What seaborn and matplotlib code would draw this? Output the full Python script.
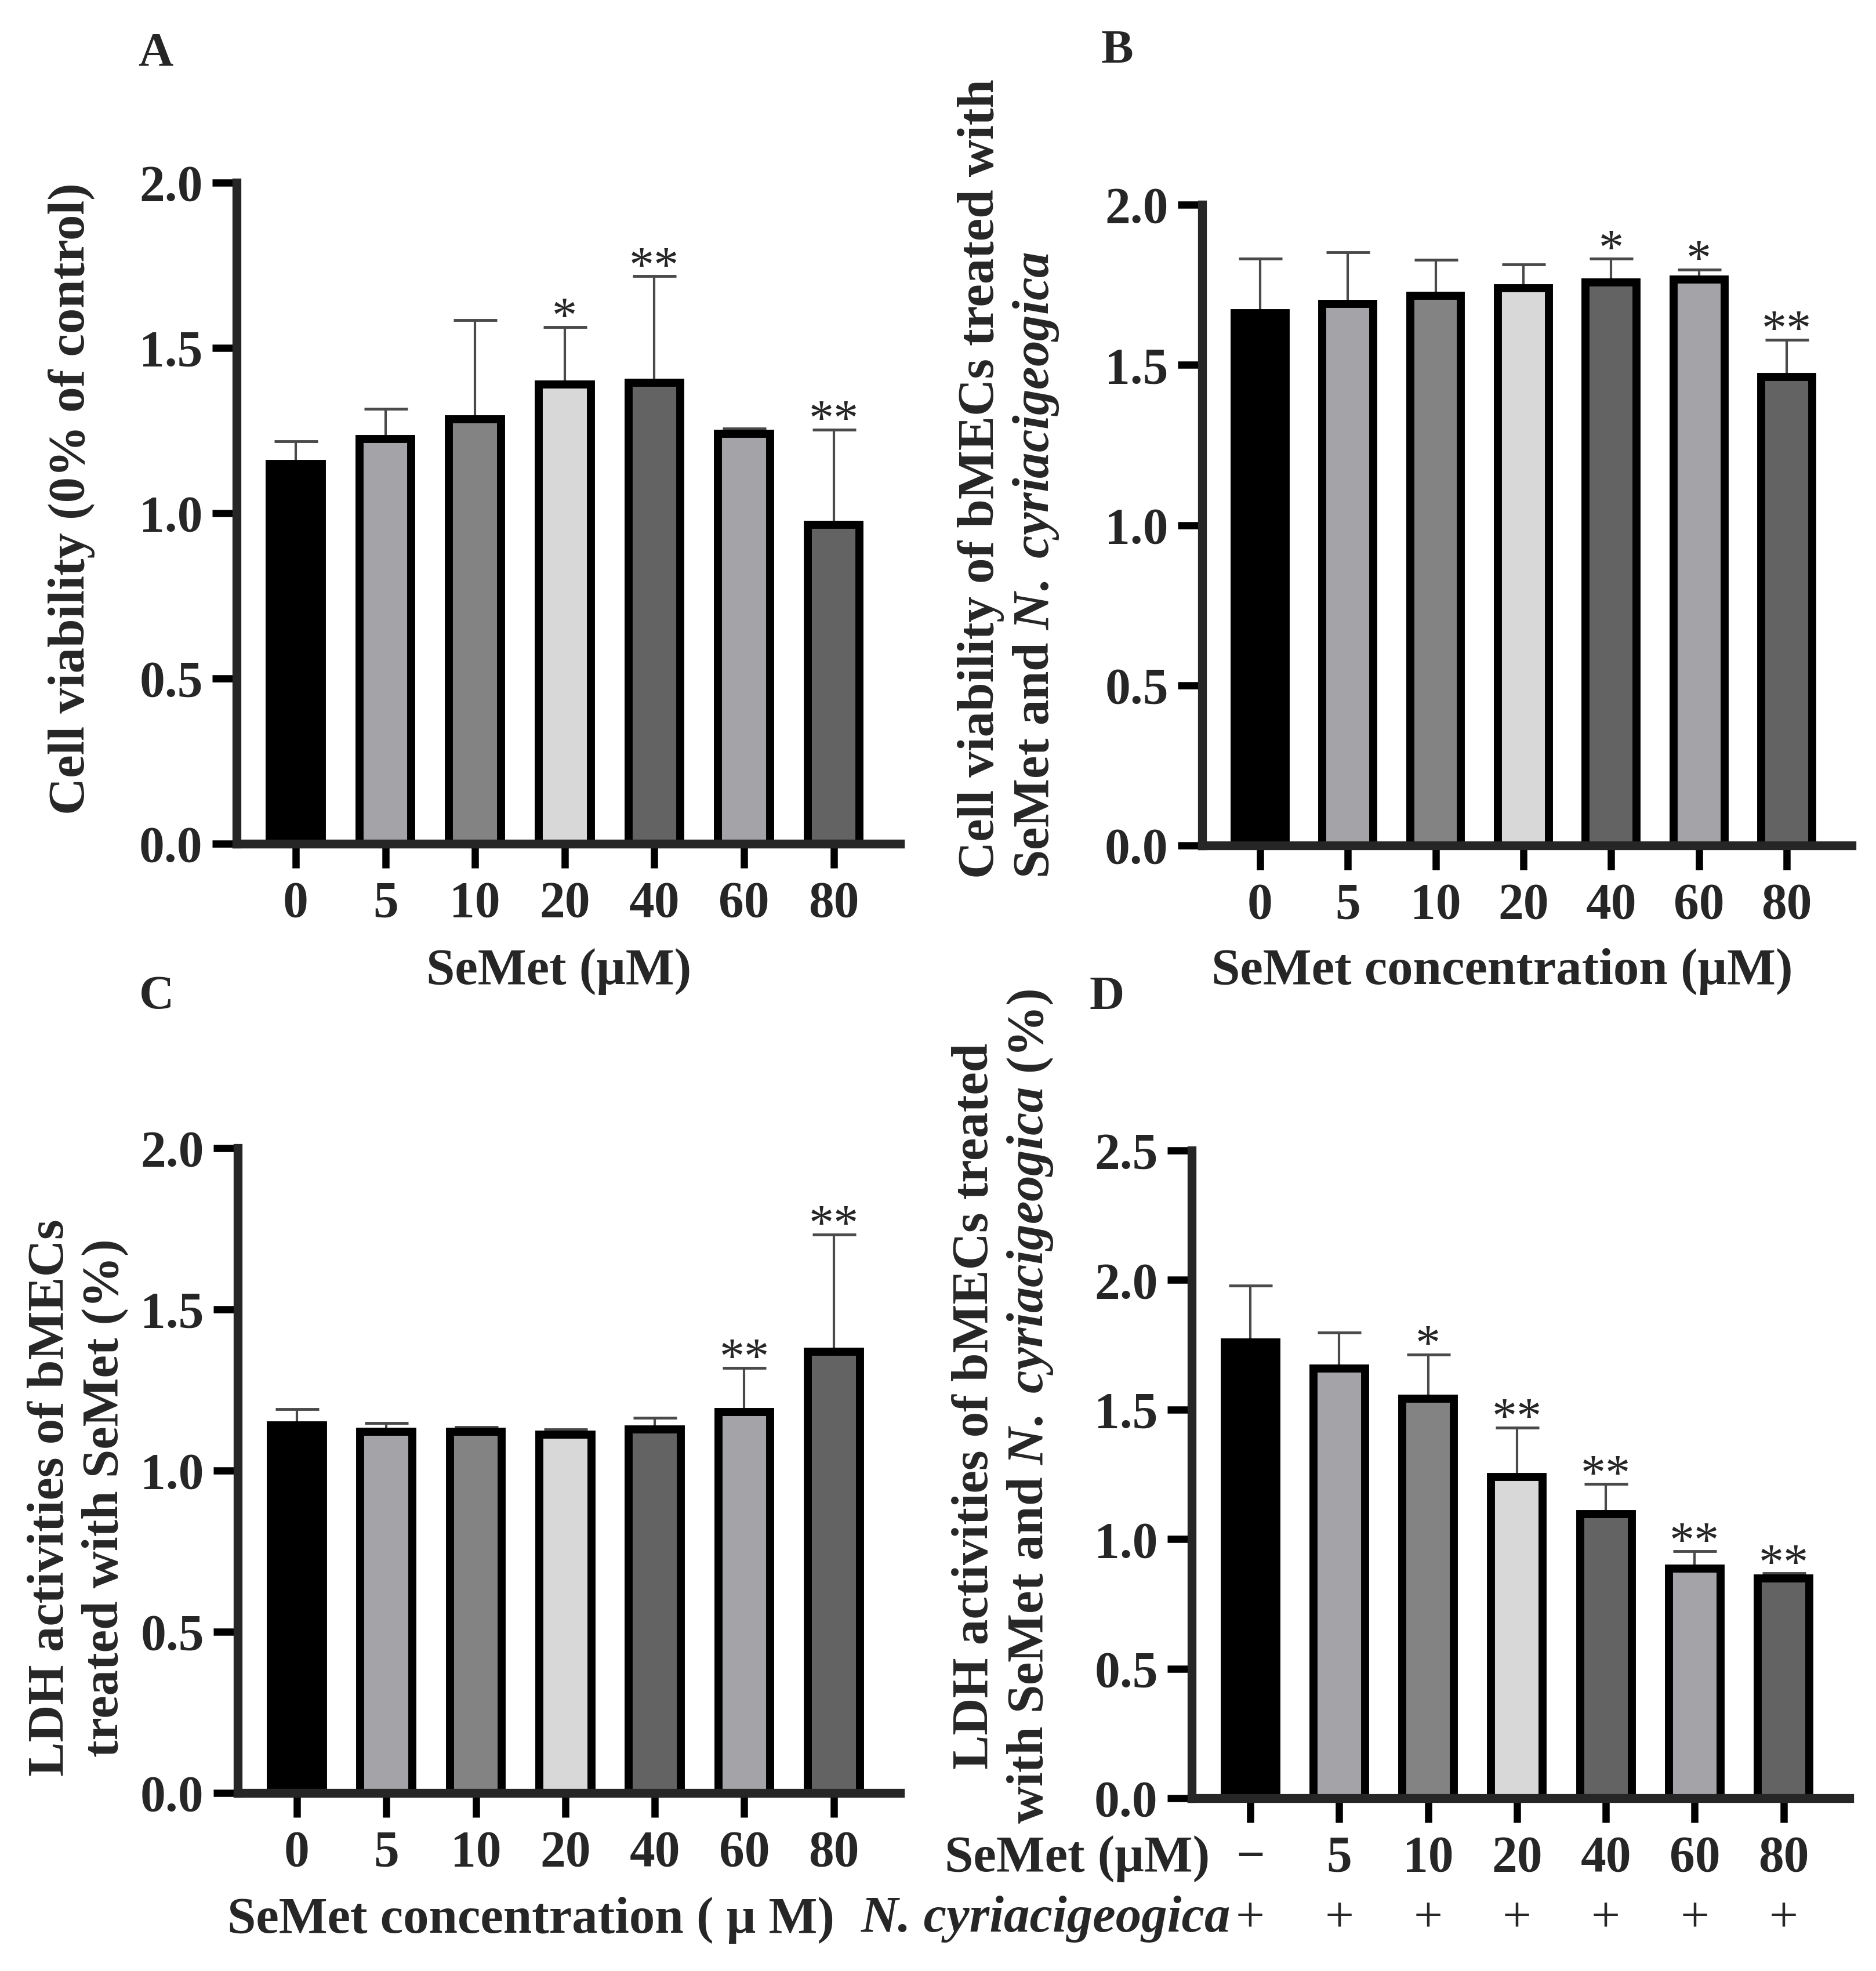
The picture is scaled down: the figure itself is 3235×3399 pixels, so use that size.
import numpy as np
import pandas as pd
import seaborn as sns
import matplotlib.pyplot as plt

W, H = 3235, 3399
DPI = 100

doses = ["0", "5", "10", "20", "40", "60", "80"]
doses_d = ["\u2212", "5", "10", "20", "40", "60", "80"]
bar_colors = ["#000000", "#a4a3a8", "#838383", "#d8d8d8", "#636363", "#a4a3a8", "#636363"]

# A: cell viability, SeMet alone
viab_semet = [1.150, 1.225, 1.285, 1.390, 1.395, 1.240, 0.965]
viab_semet_sd = [0.067, 0.090, 0.300, 0.173, 0.322, 0.017, 0.288]
viab_semet_sig = ["", "", "", "*", "**", "", "**"]

# B: cell viability, SeMet + N. cyriacigeogica
viab_nc = [1.662, 1.690, 1.715, 1.740, 1.757, 1.766, 1.463]
viab_nc_sd = [0.169, 0.162, 0.113, 0.074, 0.074, 0.032, 0.115]
viab_nc_sig = ["", "", "", "", "*", "*", "**"]

# C: LDH, SeMet alone
ldh_semet = [1.140, 1.121, 1.121, 1.111, 1.128, 1.181, 1.368]
ldh_semet_sd = [0.051, 0.027, 0.013, 0.017, 0.035, 0.138, 0.364]
ldh_semet_sig = ["", "", "", "", "", "**", "**"]

# D: LDH, SeMet + N. cyriacigeogica
ldh_nc = [1.760, 1.658, 1.542, 1.241, 1.096, 0.887, 0.849]
ldh_nc_sd = [0.218, 0.139, 0.170, 0.190, 0.116, 0.066, 0.019]
ldh_nc_sig = ["", "", "*", "**", "**", "**", "**"]

sns.set_style("ticks")
plt.rcParams["font.family"] = ["Liberation Serif", "DejaVu Serif"]
plt.rcParams["font.weight"] = "bold"
plt.rcParams["mathtext.fontset"] = "custom"
plt.rcParams["mathtext.rm"] = "Liberation Serif:bold"
plt.rcParams["mathtext.it"] = "Liberation Serif:italic:bold"
plt.rcParams["mathtext.bf"] = "Liberation Serif:bold"

FS = 64
TICK_FS = 63


def fx(x):
    return x / W


def fy(y):
    return 1 - y / H


def add_ax(fig, left, right, top, bottom):
    return fig.add_axes([fx(left), fy(bottom), (right - left) / W, (bottom - top) / H])


def draw_panel(ax, labels, means, sds, sig, ymax, yticks):
    df = pd.DataFrame({"dose": labels, "value": means})
    sns.barplot(data=df, x="dose", y="value", hue="dose", order=labels, hue_order=labels,
                palette=dict(zip(labels, bar_colors)), saturation=1, legend=False,
                width=0.58, edgecolor="black", linewidth=10, errorbar=None, ax=ax, zorder=2)
    xs = np.arange(len(labels))
    m = np.array(means)
    s = np.array(sds)
    ax.errorbar(xs, m, yerr=[np.zeros_like(s), s], fmt="none", ecolor="#4a4a4a",
                elinewidth=3, capsize=27, capthick=3.5, zorder=1)
    for x, top, t in zip(xs, m + s, sig):
        if t:
            ax.annotate(t, (x, top), xytext=(0, -6), textcoords="offset points",
                        ha="center", va="baseline", fontsize=62, fontweight="normal")
    ax.set_xlim(-0.66, 6.74)
    ax.set_ylim(0, ymax)
    ax.set_yticks(yticks)
    ax.set_yticklabels([f"{t:.1f}" for t in yticks], fontsize=TICK_FS, fontweight="bold")
    ax.set_xticks(xs)
    ax.set_xticklabels(labels, fontsize=TICK_FS, fontweight="bold")
    ax.set_xlabel("")
    ax.set_ylabel("")
    for side in ["top", "right"]:
        ax.spines[side].set_visible(False)
    for side in ["left", "bottom"]:
        ax.spines[side].set_linewidth(11)
    ax.tick_params(axis="both", direction="out", length=30, width=9, color="black")
    ax.tick_params(axis="x", pad=16)
    ax.tick_params(axis="y", pad=12)


fig = plt.figure(figsize=(W / DPI, H / DPI), dpi=DPI)

ax_a = add_ax(fig, 408, 1552, 315, 1455)
ax_b = add_ax(fig, 2073, 3193, 353, 1458)
ax_c = add_ax(fig, 410, 1552, 1980, 3092)
ax_d = add_ax(fig, 2055, 3189, 1984, 3101)

draw_panel(ax_a, doses, viab_semet, viab_semet_sd, viab_semet_sig, 2.0, [0, 0.5, 1.0, 1.5, 2.0])
draw_panel(ax_b, doses, viab_nc, viab_nc_sd, viab_nc_sig, 2.0, [0, 0.5, 1.0, 1.5, 2.0])
draw_panel(ax_c, doses, ldh_semet, ldh_semet_sd, ldh_semet_sig, 2.0, [0, 0.5, 1.0, 1.5, 2.0])
draw_panel(ax_d, doses_d, ldh_nc, ldh_nc_sd, ldh_nc_sig, 2.5, [0, 0.5, 1.0, 1.5, 2.0, 2.5])

# panel letters
for letter, (x, y) in zip("ABCD", [(268, 93), (1926, 88), (270, 1720), (1909, 1720)]):
    fig.text(fx(x), fy(y), letter, fontsize=60, fontweight="bold", ha="center", va="center")

# axis labels
fig.text(fx(124), fy(860), "Cell viability (0% of control)", rotation=90,
         ha="center", va="center", fontsize=FS, fontweight="bold")
fig.text(fx(1740), fy(1515),
         "Cell viability of bMECs treated with\nSeMet and $\\mathit{N.\\ cyriacigeogica}$",
         rotation=90, ha="center", va="bottom", multialignment="left",
         fontsize=FS, fontweight="bold")
fig.text(fx(134), fy(2583), "LDH activities of bMECs\ntreated with SeMet (%)", rotation=90,
         ha="center", va="center", multialignment="center", fontsize=FS, fontweight="bold")
fig.text(fx(1730), fy(2425),
         "LDH activities of bMECs treated\nwith SeMet and $\\mathit{N.\\ cyriacigeogica}$ (%)",
         rotation=90, ha="center", va="center", multialignment="center",
         fontsize=FS, fontweight="bold")

fig.text(fx(964), fy(1675), "SeMet (\u03bcM)", ha="center", va="center", fontsize=FS, fontweight="bold")
fig.text(fx(2590), fy(1675), "SeMet concentration (\u03bcM)", ha="center", va="center",
         fontsize=FS, fontweight="bold")
fig.text(fx(915), fy(3312), "SeMet concentration ( \u03bc M)", ha="center", va="center",
         fontsize=FS, fontweight="bold")

# D: treatment rows
fig.text(fx(2086), fy(3206), "SeMet (\u03bcM)", ha="right", va="center", fontsize=FS, fontweight="bold")
fig.text(fx(2122), fy(3309), "N. cyriacigeogica", ha="right", va="center",
         fontsize=FS, fontweight="bold", fontstyle="italic")
plus_y = (3101 - 3309) / (3101 - 1984)
for i in range(len(doses_d)):
    ax_d.text(i, plus_y, "+", transform=ax_d.get_xaxis_transform(), ha="center", va="center",
              fontsize=FS, fontweight="normal")

fig.savefig("out.png", dpi=DPI)
plt.close(fig)
